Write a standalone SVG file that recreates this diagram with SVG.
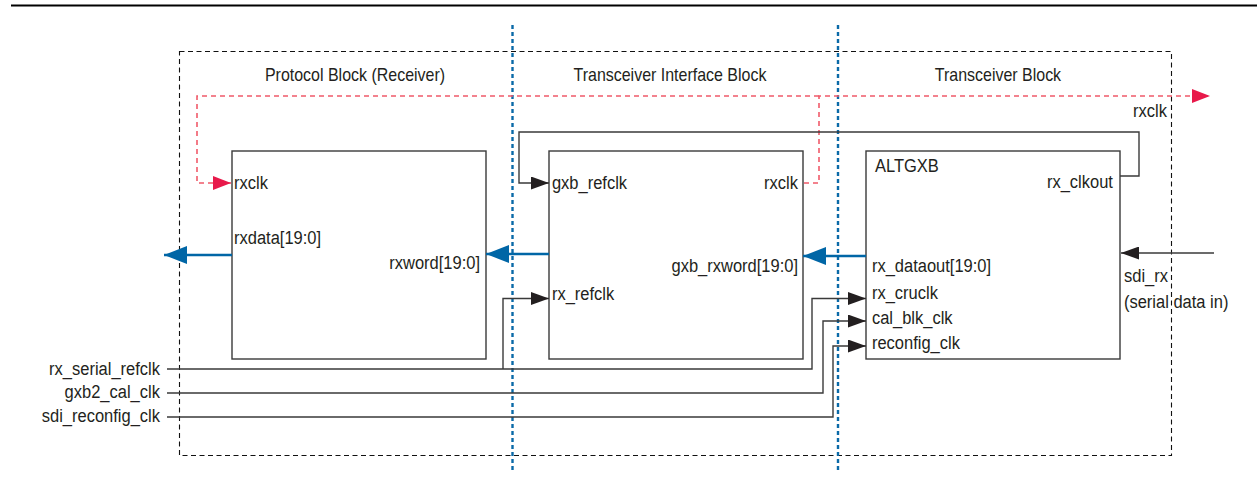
<svg xmlns="http://www.w3.org/2000/svg" width="1257" height="485" viewBox="0 0 1257 485">
<style>
text{font-family:"Liberation Sans",Arial,sans-serif;font-size:19px;fill:#231f20}
.title{font-size:18.4px;text-anchor:middle}
.r{text-anchor:end}
.box{fill:#fff;stroke:#3a3a3a;stroke-width:1.4}
.wire{fill:none;stroke:#3a3a3a;stroke-width:1.4}
.bus{fill:none;stroke:#0066a6;stroke-width:2.6}
.red{fill:none;stroke:#f05a6a;stroke-width:1.6;stroke-dasharray:5,4}
.outer{fill:none;stroke:#111;stroke-width:1.1;stroke-dasharray:5,3.5}
.div{fill:none;stroke:#0a6aa8;stroke-width:2.4;stroke-dasharray:4,3}
</style>
<defs>
<marker id="ab" markerUnits="userSpaceOnUse" markerWidth="18" markerHeight="13" refX="18" refY="6.5" orient="auto"><path d="M0,0 L18,6.5 L0,13 z" fill="#231f20"/></marker>
<marker id="au" markerUnits="userSpaceOnUse" markerWidth="23" markerHeight="18" refX="23" refY="9" orient="auto"><path d="M0,0 L23,9 L0,18 z" fill="#0066a6"/></marker>
<marker id="ar" markerUnits="userSpaceOnUse" markerWidth="18" markerHeight="14" refX="18" refY="7" orient="auto"><path d="M0,0 L18,7 L0,14 z" fill="#e8194a"/></marker>
</defs>
<line x1="11" y1="5.5" x2="1257" y2="5.5" stroke="#000" stroke-width="2.2"/>
<rect class="outer" x="179.5" y="51.5" width="992" height="404"/>
<g id="dividers">
<line class="div" x1="512.5" y1="25" x2="512.5" y2="470"/>
<line class="div" x1="838" y1="25" x2="838" y2="470"/>
</g>
<g id="protocol">
<rect class="box" x="232" y="151" width="254" height="208"/>
</g>
<g id="interface">
<rect class="box" x="549" y="151" width="254" height="208"/>
</g>
<g id="altgxb">
<rect class="box" x="866" y="151" width="254" height="208"/>
</g>
<g id="connectors">
<path class="red" d="M804,183 H819 V96 H1210" marker-end="url(#ar)"/>
<path class="red" d="M819,96 H197 V183 H231" marker-end="url(#ar)"/>
<path class="wire" d="M1120,176 H1139 V132 H519 V183 H549" marker-end="url(#ab)"/>
<path class="wire" d="M167,369 H812 V298.5 H866" marker-end="url(#ab)"/>
<path class="wire" d="M503,369 V298.5 H549" marker-end="url(#ab)"/>
<path class="wire" d="M167,393 H823 V321 H866" marker-end="url(#ab)"/>
<path class="wire" d="M167,417 H833 V346 H866" marker-end="url(#ab)"/>
<path class="wire" d="M1214,253 H1121" marker-end="url(#ab)"/>
<path class="bus" d="M866,256 H803" marker-end="url(#au)"/>
<path class="bus" d="M549,254 H486" marker-end="url(#au)"/>
<path class="bus" d="M232,255 H164" marker-end="url(#au)"/>
</g>
<g id="texts" transform="scale(0.8684,1)">
<text class="title" x="408.8" y="81">Protocol Block (Receiver)</text>
<text class="title" x="771.5" y="81">Transceiver Interface Block</text>
<text class="title" x="1149.2" y="81">Transceiver Block</text>
<text x="269.5" y="189">rxclk</text>
<text x="269.5" y="244">rxdata[19:0]</text>
<text class="r" x="552.7" y="269">rxword[19:0]</text>
<text x="635.6" y="189">gxb_refclk</text>
<text class="r" x="918.9" y="189">rxclk</text>
<text class="r" x="918.9" y="272">gxb_rxword[19:0]</text>
<text x="635.6" y="300">rx_refclk</text>
<text x="1007.6" y="172">ALTGXB</text>
<text class="r" x="1281.6" y="188">rx_clkout</text>
<text x="1004.1" y="272">rx_dataout[19:0]</text>
<text x="1004.1" y="299">rx_cruclk</text>
<text x="1004.1" y="324">cal_blk_clk</text>
<text x="1004.1" y="349">reconfig_clk</text>
<text class="r" x="1343.8" y="117">rxclk</text>
<text x="1294.3" y="282">sdi_rx</text>
<text x="1294.3" y="308">(serial data in)</text>
<text class="r" x="184.2" y="375">rx_serial_refclk</text>
<text class="r" x="184.2" y="398">gxb2_cal_clk</text>
<text class="r" x="184.2" y="422">sdi_reconfig_clk</text>
</g>
</svg>
